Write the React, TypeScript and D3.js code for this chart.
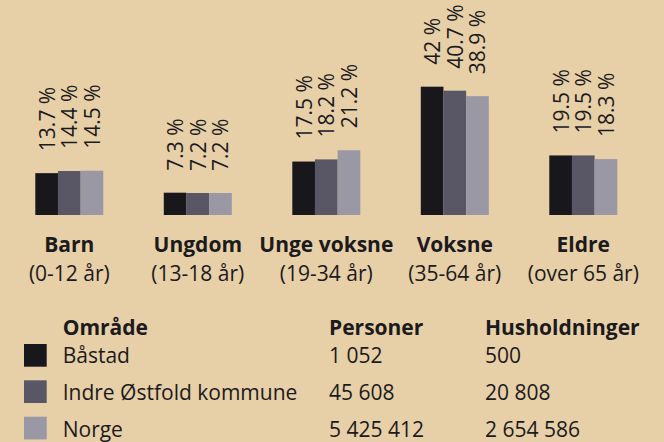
import React from "react";
import * as d3 from "d3";

const categories = ["Barn", "Ungdom", "Unge voksne", "Voksne", "Eldre"];
const ageRanges = ["(0-12 år)", "(13-18 år)", "(19-34 år)", "(35-64 år)", "(over 65 år)"];
const seriesNames = ["Båstad", "Indre Østfold kommune", "Norge"];
const bastad = [13.7, 7.3, 17.5, 42, 19.5];
const indre = [14.4, 7.2, 18.2, 40.7, 19.5];
const norge = [14.5, 7.2, 21.2, 38.9, 18.3];
const valueLabelsBastad = ["13.7 %", "7.3 %", "17.5 %", "42 %", "19.5 %"];
const valueLabelsIndre = ["14.4 %", "7.2 %", "18.2 %", "40.7 %", "19.5 %"];
const valueLabelsNorge = ["14.5 %", "7.2 %", "21.2 %", "38.9 %", "18.3 %"];
const personer = ["1 052", "45 608", "5 425 412"];
const husholdninger = ["500", "20 808", "2 654 586"];
const tableHeaders = ["Område", "Personer", "Husholdninger"];

const colors = ["#18171b", "#595766", "#9b98a6"];
const BG = "#e7cfa7";
const TEXT = "#1b1a1d";
const FONT = "'Open Sans', sans-serif";

export default function App() {
  const W = 664;
  const H = 442;
  const values = [bastad, indre, norge];
  const labels = [valueLabelsBastad, valueLabelsIndre, valueLabelsNorge];

  const x0 = d3
    .scaleBand<string>()
    .domain(categories)
    .range([35.3, 617.3])
    .paddingInner(0.4708)
    .paddingOuter(0);
  const x1 = d3
    .scaleBand<string>()
    .domain(seriesNames)
    .range([0, x0.bandwidth()])
    .padding(0);
  const y = d3.scaleLinear().domain([0, 42]).range([215, 86.7]);

  const rowTops = [344, 380.3, 416.7];
  const rowBase = [363.3, 400, 436.5];
  const fs = 21;

  return (
    <svg
      width={W}
      height={H}
      style={{ position: "absolute", left: 0, top: 0, background: BG }}
      fontFamily={FONT}
    >
      <rect x={0} y={0} width={W} height={H} fill={BG} />
      {categories.map((c, ci) => (
        <g key={c} transform={`translate(${x0(c)},0)`}>
          {seriesNames.map((s, si) => {
            const v = values[si][ci];
            const bx = x1(s)!;
            const top = y(v);
            const cx = bx + x1.bandwidth() / 2;
            return (
              <g key={s}>
                <rect
                  x={bx}
                  y={top}
                  width={x1.bandwidth()}
                  height={y(0) - top}
                  fill={colors[si]}
                />
                <text
                  transform={`translate(${cx},${top - 22}) rotate(-90)`}
                  textAnchor="start"
                  dominantBaseline="central"
                  fontSize={fs}
                  fill={TEXT}
                >
                  {labels[si][ci]}
                </text>
              </g>
            );
          })}
          <text
            x={x0.bandwidth() / 2}
            y={251.7}
            textAnchor="middle"
            fontSize={fs}
            fontWeight="bold"
            fill={TEXT}
          >
            {c}
          </text>
          <text
            x={x0.bandwidth() / 2}
            y={281}
            textAnchor="middle"
            fontSize={fs}
            fill={TEXT}
          >
            {ageRanges[ci]}
          </text>
        </g>
      ))}

      <g fontSize={fs} fill={TEXT}>
        <text x={62.7} y={335} fontWeight="bold">{tableHeaders[0]}</text>
        <text x={329} y={335} fontWeight="bold">{tableHeaders[1]}</text>
        <text x={485} y={335} fontWeight="bold">{tableHeaders[2]}</text>
        {seriesNames.map((s, i) => (
          <g key={s}>
            <rect x={24} y={rowTops[i]} width={22.7} height={22.7} fill={colors[i]} />
            <text x={62.7} y={rowBase[i]}>{s}</text>
            <text x={329} y={rowBase[i]}>{personer[i]}</text>
            <text x={485} y={rowBase[i]}>{husholdninger[i]}</text>
          </g>
        ))}
      </g>
    </svg>
  );
}
